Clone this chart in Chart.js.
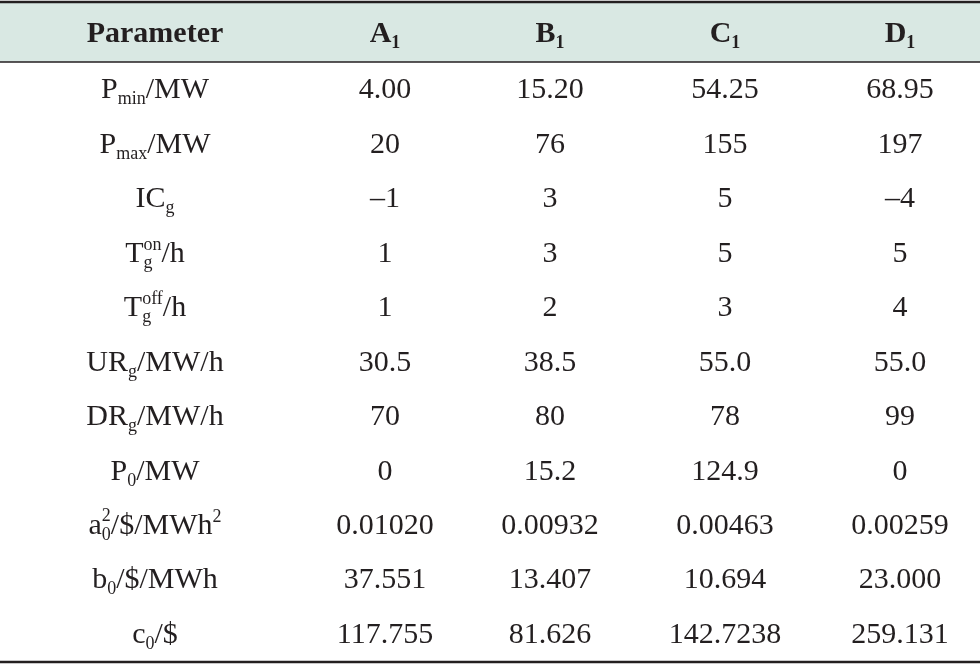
<!DOCTYPE html>
<html><head><meta charset="utf-8">
<script src="https://cdn.jsdelivr.net/npm/chart.js@4/dist/chart.umd.min.js"></script>
<style>html,body{margin:0;padding:0;background:#fff}</style>
</head><body>
<canvas id="c" width="980" height="670"></canvas>
<script>
// Table content
const headers = [[{t:'Parameter'}],[{t:'A'},{t:'1',sub:1}],[{t:'B'},{t:'1',sub:1}],[{t:'C'},{t:'1',sub:1}],[{t:'D'},{t:'1',sub:1}]];
const rowLabels = [
  [{t:'P'},{t:'min',sub:1},{t:'/MW'}],
  [{t:'P'},{t:'max',sub:1},{t:'/MW'}],
  [{t:'IC'},{t:'g',sub:1}],
  [{t:'T'},{t:'on',sup:1,stackSub:'g'},{t:'/h'}],
  [{t:'T'},{t:'off',sup:1,stackSub:'g'},{t:'/h'}],
  [{t:'UR'},{t:'g',sub:1},{t:'/MW/h'}],
  [{t:'DR'},{t:'g',sub:1},{t:'/MW/h'}],
  [{t:'P'},{t:'0',sub:1},{t:'/MW'}],
  [{t:'a'},{t:'0',sub:1,stackSup:'2'},{t:'/$/MWh'},{t:'2',sup:1}],
  [{t:'b'},{t:'0',sub:1},{t:'/$/MWh'}],
  [{t:'c'},{t:'0',sub:1},{t:'/$'}]
];
const valuesA = ['4.00','20','\u20131','1','1','30.5','70','0','0.01020','37.551','117.755'];
const valuesB = ['15.20','76','3','3','2','38.5','80','15.2','0.00932','13.407','81.626'];
const valuesC = ['54.25','155','5','5','3','55.0','78','124.9','0.00463','10.694','142.7238'];
const valuesD = ['68.95','197','\u20134','5','4','55.0','99','0','0.00259','23.000','259.131'];
const columns = [valuesA, valuesB, valuesC, valuesD];

// layout
const colX = [155, 385, 550, 725, 900];
const headerY = -1.028, topLineY = -1.578, headLineY = -0.477, bottomLineY = 10.53;
const FONT = '"Liberation Serif", "Times New Roman", serif';

function drawRich(ctx, segs, cx, cy, bold){
  const big = (bold?'bold ':'') + '30px ' + FONT;
  const small = (bold?'bold ':'') + '18px ' + FONT;
  let w = 0; const widths = [];
  segs.forEach(s=>{
    ctx.font = (s.sub||s.sup)?small:big;
    let sw = ctx.measureText(s.t).width;
    if (s.stackSub){ctx.font=small; sw=Math.max(sw,ctx.measureText(s.stackSub).width);}
    if (s.stackSup){ctx.font=small; sw=Math.max(sw,ctx.measureText(s.stackSup).width);}
    widths.push(sw); w+=sw;
  });
  let x = cx - w/2;
  ctx.textBaseline='alphabetic'; ctx.textAlign='left'; ctx.fillStyle='#231f20';
  const base = cy + 10;
  segs.forEach((s,i)=>{
    if (s.sub){ctx.font=small; ctx.fillText(s.t,x,base+6); if(s.stackSup) ctx.fillText(s.stackSup,x,base-13);}
    else if (s.sup){ctx.font=small; ctx.fillText(s.t,x,base-12); if(s.stackSub) ctx.fillText(s.stackSub,x,base+6);}
    else {ctx.font=big; ctx.fillText(s.t,x,base);}
    x += widths[i];
  });
}

const tablePlugin = {
  id:'table',
  beforeDatasetsDraw(chart){
    const {ctx, scales:{x,y}} = chart;
    ctx.save();
    ctx.fillStyle='#d9e8e3';
    ctx.fillRect(0, y.getPixelForValue(topLineY), 980, y.getPixelForValue(headLineY)-y.getPixelForValue(topLineY));
    ctx.strokeStyle='#231f20';
    [[topLineY,2.5],[headLineY,1.5],[bottomLineY,2.5]].forEach(([v,lw])=>{
      ctx.lineWidth=lw; ctx.beginPath();
      const py=y.getPixelForValue(v); ctx.moveTo(0,py); ctx.lineTo(980,py); ctx.stroke();
    });
    headers.forEach((h,i)=>drawRich(ctx,h,x.getPixelForValue(colX[i]),y.getPixelForValue(headerY),true));
    rowLabels.forEach((r,i)=>drawRich(ctx,r,x.getPixelForValue(colX[0]),y.getPixelForValue(i),false));
    columns.forEach((col,c)=>col.forEach((v,i)=>drawRich(ctx,[{t:v}],x.getPixelForValue(colX[c+1]),y.getPixelForValue(i),false)));
    ctx.restore();
  }
};

const pts=[];
columns.forEach((col,c)=>col.forEach((v,i)=>pts.push({x:colX[c+1],y:i})));
new Chart(document.getElementById('c'),{
  type:'scatter',
  data:{datasets:[{data:pts,pointRadius:0}]},
  options:{responsive:false,animation:false,layout:{padding:0},
    plugins:{legend:{display:false},tooltip:{enabled:false}},
    scales:{x:{type:'linear',min:0,max:980,display:false},
            y:{type:'linear',min:-1.615,max:10.679,reverse:true,display:false}}},
  plugins:[tablePlugin]
});
</script>
</body></html>
